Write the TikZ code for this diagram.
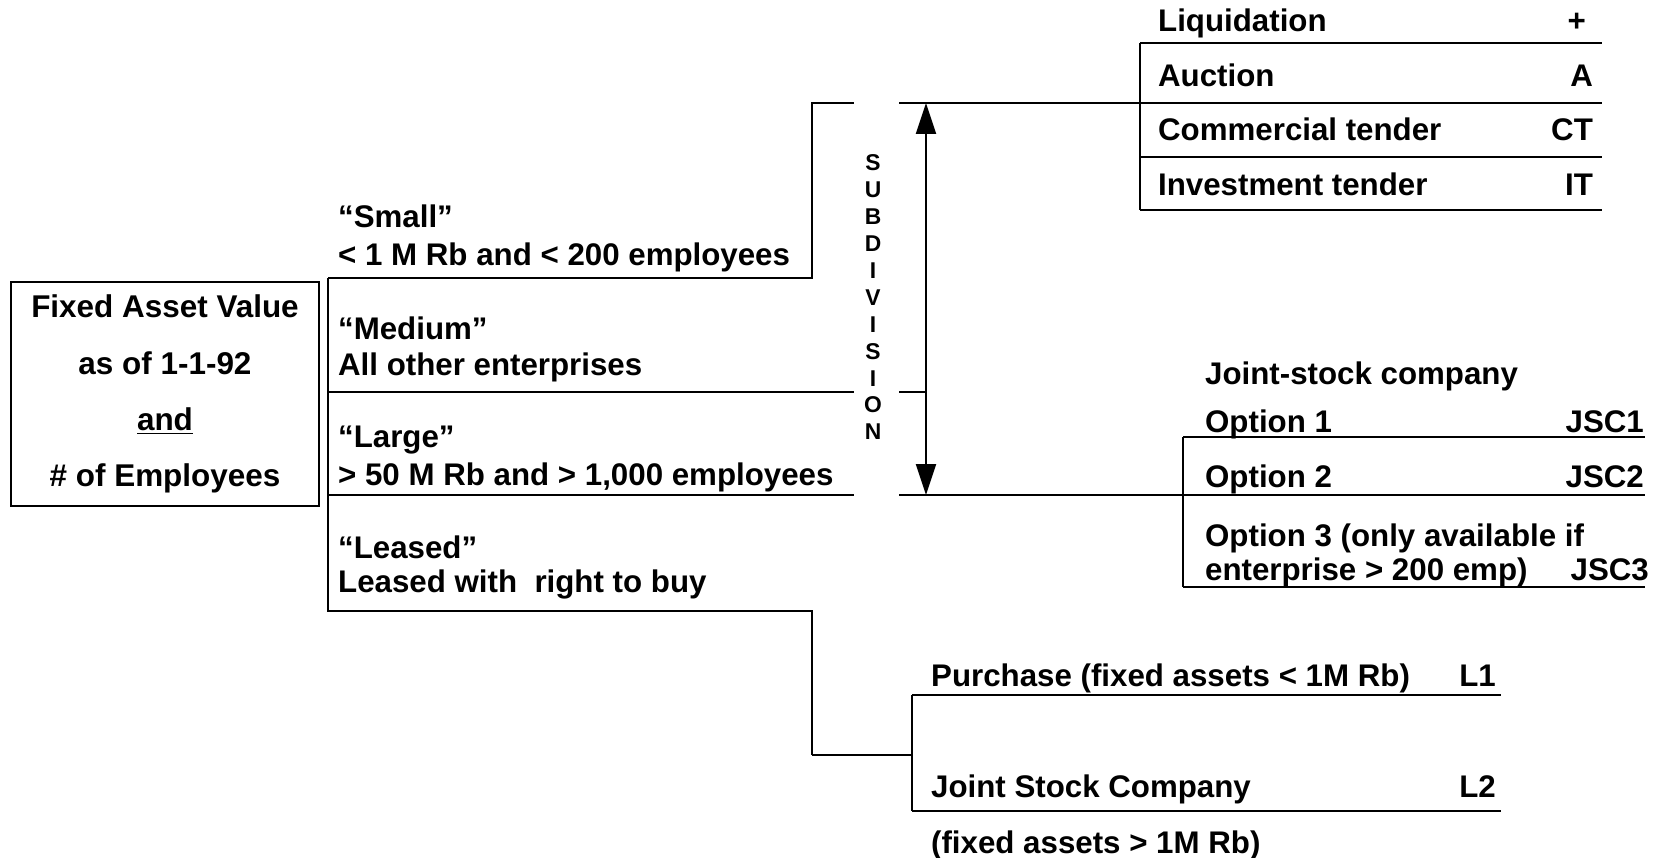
\documentclass[tikz,border=0pt]{standalone}
\usepackage{fontspec}
\setmainfont{Liberation Sans}[BoldFont={Liberation Sans Bold}]
\usetikzlibrary{arrows.meta}
\begin{document}
\begin{tikzpicture}[x=0.02cm, y=-0.02cm,
  line width=1.3pt,
  txt/.style={inner sep=0pt, anchor=west, text height=0.72em, text depth=0.2em,
    yshift=-0.12cm, font=\bfseries\fontsize{17.8}{21}\selectfont},
  code/.style={txt, anchor=east},
  letter/.style={inner sep=0pt, font=\bfseries\fontsize{13}{14}\selectfont},
  framebox/.style={draw, line width=1.3pt, minimum width=6.17cm, minimum height=4.48cm,
    align=center, inner sep=0pt, font=\bfseries\fontsize{17.9}{32}\selectfont}]
\useasboundingbox (0,0) rectangle (1663,858);

% input box
\node[framebox] (fav) at (165,394)
  {Fixed Asset Value\\as of 1-1-92\\\underline{and}\\\# of Employees};

% junction points of the size tree
\coordinate (trT) at (328,278);
\coordinate (trB) at (328,611);
\coordinate (smR) at (812,278);
\coordinate (smU) at (812,103);
\coordinate (smE) at (854,103);
\coordinate (mdE) at (854,392);
\coordinate (lgE) at (854,495);
\coordinate (lsR) at (812,611);
\coordinate (lsD) at (812,755);
\coordinate (topS) at (899,103);
\coordinate (mdS) at (899,392);
\coordinate (lgS) at (899,495);
\coordinate (arT) at (926,103);
\coordinate (arB) at (926,495);

% size categories
\node[txt] (small1) at (337,217) {“Small”};
\node[txt] (small2) at (337,255) {< 1 M Rb and < 200 employees};
\node[txt] (med1) at (337,329) {“Medium”};
\node[txt] (med2) at (337,365) {All other enterprises};
\node[txt] (lrg1) at (337,437) {“Large”};
\node[txt] (lrg2) at (337,475) {> 50 M Rb and > 1,000 employees};
\node[txt] (ls1) at (337,548) {“Leased”};
\node[txt] (ls2) at (337,582) {Leased with\ \ right to buy};

\draw (trT) -- (smR) -- (smU) -- (smE);
\draw (trT) -- (trB) -- (lsR) -- (lsD);
\draw (328,392) -- (mdE);
\draw (328,495) -- (lgE);
\draw (mdS) -- (arB |- mdS);

% subdivision arrow and vertical label
\draw[{Triangle[length=0.62cm,width=0.4cm]}-{Triangle[length=0.62cm,width=0.4cm]}] (arT) -- (arB);
\foreach \ch [count=\i from 0] in {S,U,B,D,I,V,I,S,I,O,N}
  \node[letter] (sub\i) at (873,163+26.9*\i) {\ch};

% privatisation routes for small enterprises
\coordinate (liqT) at (1140,43);
\coordinate (liqB) at (1140,210);
\coordinate (liqM) at (1140,103);
\draw (topS) -- (liqM);
\draw (liqT) -- (liqB);
\foreach \yy in {43,103,157,210} \draw (1140,\yy) -- (1602,\yy);
\node[txt] (liq) at (1157,21) {Liquidation};
\node[code] (liqc) at (1587,21) {+};
\node[txt] (auc) at (1157,76) {Auction};
\node[code] (aucc) at (1594,76) {A};
\node[txt] (ct) at (1157,130) {Commercial tender};
\node[code] (ctc) at (1594,130) {CT};
\node[txt] (it) at (1157,185) {Investment tender};
\node[code] (itc) at (1594,185) {IT};

% joint-stock company options
\coordinate (jscT) at (1183,437);
\coordinate (jscB) at (1183,587);
\coordinate (jscM) at (1183,495);
\draw (lgS) -- (jscM);
\draw (jscT) -- (jscB);
\foreach \yy in {437,495,587} \draw (1183,\yy) -- (1645,\yy);
\node[txt] (jsc) at (1204,374) {Joint-stock company};
\node[txt] (op1) at (1204,422) {Option 1};
\node[code] (op1c) at (1645,422) {JSC1};
\node[txt] (op2) at (1204,477) {Option 2};
\node[code] (op2c) at (1645,477) {JSC2};
\node[txt] (op3a) at (1204,536) {Option 3 (only available if};
\node[txt] (op3b) at (1204,570) {enterprise > 200 emp)};
\node[code] (op3c) at (1650,570) {JSC3};

% leased enterprises
\coordinate (lsT) at (912,695);
\coordinate (lsB) at (912,811);
\coordinate (lsM) at (912,755);
\draw (lsD) -- (lsM);
\draw (lsT) -- (lsB);
\foreach \yy in {695,811} \draw (912,\yy) -- (1501,\yy);
\node[txt] (pur) at (930,676) {Purchase (fixed assets < 1M Rb)};
\node[code] (purc) at (1497,676) {L1};
\node[txt] (jsl) at (930,787) {Joint Stock Company};
\node[code] (jslc) at (1497,787) {L2};
\node[txt] (jsln) at (930,843) {(fixed assets > 1M Rb)};
\end{tikzpicture}
\end{document}
